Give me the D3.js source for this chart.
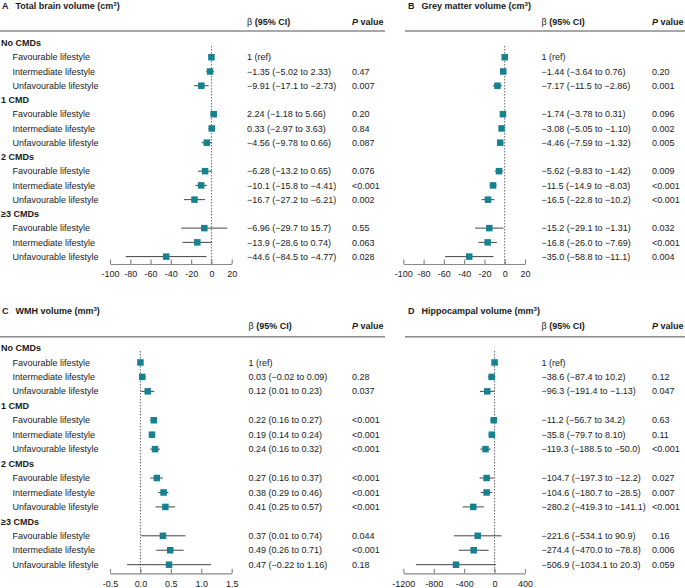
<!DOCTYPE html>
<html><head><meta charset="utf-8">
<script src="https://cdn.jsdelivr.net/npm/d3@7"></script>
<style>
body{margin:0;background:#fff;}
svg{display:block;font-family:"Liberation Sans",Arial,sans-serif;}
</style></head>
<body><svg id="c" width="685" height="588"></svg>
<script>
const groups = ["No CMDs", "1 CMD", "2 CMDs", "\u22653 CMDs"];
const lifestyles = ["Favourable lifestyle", "Intermediate lifestyle", "Unfavourable lifestyle"];

// Panel A: Total brain volume
const aEst = ["0", "-1.35", "-9.91", "2.24", "0.33", "-4.56", "-6.28", "-10.1", "-16.7", "-6.96", "-13.9", "-44.6"];
const aLo  = [null, "-5.02", "-17.1", "-1.18", "-2.97", "-9.78", "-13.2", "-15.8", "-27.2", "-29.7", "-28.6", "-84.5"];
const aHi  = [null, "2.33", "-2.73", "5.66", "3.63", "0.66", "0.65", "-4.41", "-6.21", "15.7", "0.74", "-4.77"];
const aP   = ["", "0.47", "0.007", "0.20", "0.84", "0.087", "0.076", "<0.001", "0.002", "0.55", "0.063", "0.028"];
const aTicks = [-100, -80, -60, -40, -20, 0, 20];

// Panel B: Grey matter volume
const bEst = ["0", "-1.44", "-7.17", "-1.74", "-3.08", "-4.46", "-5.62", "-11.5", "-16.5", "-15.2", "-16.8", "-35.0"];
const bLo  = [null, "-3.64", "-11.5", "-3.78", "-5.05", "-7.59", "-9.83", "-14.9", "-22.8", "-29.1", "-26.0", "-58.8"];
const bHi  = [null, "0.76", "-2.86", "0.31", "-1.10", "-1.32", "-1.42", "-8.03", "-10.2", "-1.31", "-7.69", "-11.1"];
const bP   = ["", "0.20", "0.001", "0.096", "0.002", "0.005", "0.009", "<0.001", "<0.001", "0.032", "<0.001", "0.004"];
const bTicks = [-100, -80, -60, -40, -20, 0, 20];

// Panel C: WMH volume
const cEst = ["0", "0.03", "0.12", "0.22", "0.19", "0.24", "0.27", "0.38", "0.41", "0.37", "0.49", "0.47"];
const cLo  = [null, "-0.02", "0.01", "0.16", "0.14", "0.16", "0.16", "0.29", "0.25", "0.01", "0.26", "-0.22"];
const cHi  = [null, "0.09", "0.23", "0.27", "0.24", "0.32", "0.37", "0.46", "0.57", "0.74", "0.71", "1.16"];
const cP   = ["", "0.28", "0.037", "<0.001", "<0.001", "<0.001", "<0.001", "<0.001", "<0.001", "0.044", "<0.001", "0.18"];
const cTicks = [-0.5, 0, 0.5, 1.0, 1.5];

// Panel D: Hippocampal volume
const dEst = ["0", "-38.6", "-96.3", "-11.2", "-35.8", "-119.3", "-104.7", "-104.6", "-280.2", "-221.6", "-274.4", "-506.9"];
const dLo  = [null, "-87.4", "-191.4", "-56.7", "-79.7", "-188.5", "-197.3", "-180.7", "-419.3", "-534.1", "-470.0", "-1034.1"];
const dHi  = [null, "10.2", "-1.13", "34.2", "8.10", "-50.0", "-12.2", "-28.5", "-141.1", "90.9", "-78.8", "20.3"];
const dP   = ["", "0.12", "0.047", "0.63", "0.11", "<0.001", "0.027", "0.007", "<0.001", "0.16", "0.006", "0.059"];
const dTicks = [-1200, -800, -400, 0, 400];

const svg = d3.select("#c");
const TXT = "#1a1a1a", SQ = "#16818f", LINE = "#444", GRID = "#8a8a8a";
const mm = s => s.replace(/-/g, "\u2212");

function panel(o) {
  const g = svg.append("g");
  // row scale: 16 rows (group header + 3 lifestyle rows each)
  const y = d3.scaleLinear().domain([0, 15]).range([o.y0, o.y1]);
  const x = d3.scaleLinear().domain(o.domain).range(o.xr);
  // title
  g.append("text").attr("x", o.tx).attr("y", o.ty).attr("font-size", 9).attr("font-weight", "bold").attr("fill", TXT).text(o.letter);
  g.append("text").attr("x", o.tx + 13.5).attr("y", o.ty).attr("font-size", 9).attr("font-weight", "bold").attr("fill", TXT).html(o.title);
  // header
  g.append("text").attr("x", o.ciX).attr("y", o.hy).attr("font-size", 9).attr("fill", TXT)
    .html('\u03b2 <tspan font-weight="bold">(95% CI)</tspan>');
  g.append("text").attr("x", o.pX).attr("y", o.hy).attr("font-size", 9).attr("font-weight", "bold").attr("fill", TXT)
    .html('<tspan font-style="italic">P</tspan> value');
  g.append("line").attr("x1", o.lx1).attr("x2", o.lx2).attr("y1", o.ly).attr("y2", o.ly)
    .attr("stroke", GRID).attr("stroke-width", 1.4);
  // rows
  const rows = [];
  groups.forEach((gr, gi) => {
    rows.push({type: "g", label: gr, r: gi * 4});
    lifestyles.forEach((ls, li) => rows.push({type: "r", label: ls, r: gi * 4 + 1 + li, i: gi * 3 + li}));
  });
  if (o.labels) {
    g.selectAll(".lab").data(rows).join("text")
      .attr("x", d => d.type === "g" ? 1 : 12.5)
      .attr("y", d => y(d.r)).attr("dy", "0.35em")
      .attr("font-size", 9).attr("font-weight", d => d.type === "g" ? "bold" : "normal")
      .attr("fill", TXT).text(d => d.label);
  }
  // axis
  const ax = d3.axisBottom(x).tickValues(o.ticks).tickSize(0).tickPadding(7)
    .tickFormat(v => o.fmt(v).replace(/\u2212/g, "-"));
  const axg = g.append("g").attr("transform", `translate(0,${o.axY})`).call(ax);
  axg.select(".domain").attr("stroke", GRID).attr("stroke-width", 1.2);
  axg.selectAll(".tick").append("line").attr("y1", 0).attr("y2", -4.5).attr("stroke", GRID).attr("stroke-width", 1.2);
  axg.selectAll("text").attr("font-size", 9).attr("fill", TXT).attr("font-family", "Liberation Sans, Arial, sans-serif");
  // reference line
  g.append("line").attr("x1", x(0)).attr("x2", x(0)).attr("y1", o.dTop).attr("y2", o.axY)
    .attr("stroke", "#555").attr("stroke-width", 0.9).attr("stroke-dasharray", "1.5,1.5");
  const dr = rows.filter(d => d.type === "r");
  // CI lines
  g.selectAll(".ci").data(dr.filter(d => o.lo[d.i] !== null)).join("line")
    .attr("x1", d => x(+o.lo[d.i])).attr("x2", d => x(+o.hi[d.i]))
    .attr("y1", d => y(d.r)).attr("y2", d => y(d.r))
    .attr("stroke", LINE).attr("stroke-width", 1);
  // squares
  const s = 6.5;
  g.selectAll(".sq").data(dr).join("rect")
    .attr("x", d => x(+o.est[d.i]) - s / 2).attr("y", d => y(d.r) - s / 2)
    .attr("width", s).attr("height", s).attr("fill", SQ);
  // CI text
  g.selectAll(".cit").data(dr).join("text")
    .attr("x", o.ciX).attr("y", d => y(d.r)).attr("dy", "0.35em").attr("font-size", 9).attr("fill", TXT)
    .text(d => o.lo[d.i] === null ? "1 (ref)" : mm(`${o.est[d.i]} (${o.lo[d.i]} to ${o.hi[d.i]})`));
  // P text
  g.selectAll(".pt").data(dr).join("text")
    .attr("x", o.pX).attr("y", d => y(d.r)).attr("dy", "0.35em").attr("font-size", 9).attr("fill", TXT)
    .text(d => o.p[d.i]);
}

const fInt = d3.format("d");
panel({letter: "A", title: "Total brain volume (cm<tspan dy='-3' font-size='6'>3</tspan><tspan dy='3'>)</tspan>", tx: 2, ty: 9,
  hy: 24.5, ly: 31, lx1: 0, lx2: 385, y0: 43, y1: 256.6, domain: [-100, 20], xr: [110, 231.7],
  ticks: aTicks, fmt: fInt, axY: 264, dTop: 46, ciX: 247, pX: 352, labels: true,
  est: aEst, lo: aLo, hi: aHi, p: aP});
panel({letter: "B", title: "Grey matter volume (cm<tspan dy='-3' font-size='6'>3</tspan><tspan dy='3'>)</tspan>", tx: 408, ty: 9,
  hy: 24.5, ly: 31, lx1: 405, lx2: 685, y0: 43, y1: 256.6, domain: [-100, 20], xr: [403.3, 525],
  ticks: bTicks, fmt: fInt, axY: 264, dTop: 46, ciX: 541.5, pX: 652, labels: false,
  est: bEst, lo: bLo, hi: bHi, p: bP});
panel({letter: "C", title: "WMH volume (mm<tspan dy='-3' font-size='6'>3</tspan><tspan dy='3'>)</tspan>", tx: 2, ty: 313.5,
  hy: 329, ly: 336.7, lx1: 0, lx2: 385, y0: 348, y1: 564.7, domain: [-0.5, 1.5], xr: [110, 231.7],
  ticks: cTicks, fmt: d3.format(".1f"), axY: 573.3, dTop: 351, ciX: 248.5, pX: 352, labels: true,
  est: cEst, lo: cLo, hi: cHi, p: cP});
panel({letter: "D", title: "Hippocampal volume (mm<tspan dy='-3' font-size='6'>3</tspan><tspan dy='3'>)</tspan>", tx: 408, ty: 313.5,
  hy: 329, ly: 336.7, lx1: 405, lx2: 685, y0: 348, y1: 564.7, domain: [-1200, 400], xr: [403.3, 525],
  ticks: dTicks, fmt: fInt, axY: 573.3, dTop: 351, ciX: 541.5, pX: 652, labels: false,
  est: dEst, lo: dLo, hi: dHi, p: dP});
</script></body></html>
